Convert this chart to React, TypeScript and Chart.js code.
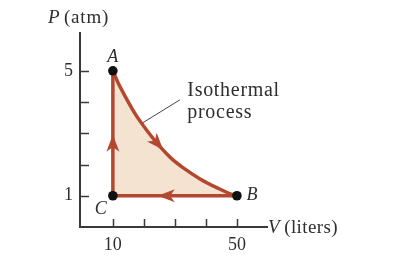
import React, { useEffect, useRef } from "react";
import { Chart, registerables } from "chart.js";

Chart.register(...registerables);

// Isothermal curve A -> B
const CURVE_V = [10, 12, 14.2, 17.4, 21.3, 25.2, 29, 32.6, 38.1, 43.5, 48.7, 50];
const CURVE_P = [5, 4.55, 4.14, 3.59, 3.05, 2.57, 2.18, 1.9, 1.54, 1.26, 1.03, 1];

// Straight legs B -> C -> A
const EDGE_V = [50, 10, 10];
const EDGE_P = [1, 1, 5];

// State points
const POINT_NAMES = ["A", "B", "C"];
const POINT_V = [10, 50, 10];
const POINT_P = [5, 1, 1];

// Axis ticks
const X_TICKS = [10, 20, 30, 40, 50];
const Y_TICKS = [1, 2, 3, 4, 5];
const X_LABELS = [10, 50];
const Y_LABELS = [1, 5];

// Arrow heads (tip and a point behind it, in data units)
const ARROW_TIP_V = [10, 24.5, 26.2];
const ARROW_TIP_P = [2.95, 1, 2.47];
const ARROW_TAIL_V = [10, 30, 23.5];
const ARROW_TAIL_P = [2.5, 1, 2.77];

const LINE = "#b4472f";
const FILL = "#f3e3d0";
const AXIS = "#3a3a3a";
const TEXT = "#2e2e2e";
const FONT = "'Liberation Serif', 'DejaVu Serif', serif";

const decoPlugin = {
  id: "deco",
  afterDatasetsDraw(chart: any) {
    const { ctx } = chart;
    const x = chart.scales.x;
    const y = chart.scales.y;
    ctx.save();
    // inward tick marks
    ctx.strokeStyle = AXIS;
    ctx.lineWidth = 1.5;
    X_TICKS.forEach((v) => {
      const px = Math.round(x.getPixelForValue(v)) + 0.5;
      ctx.beginPath();
      ctx.moveTo(px, y.bottom);
      ctx.lineTo(px, y.bottom - 8);
      ctx.stroke();
    });
    Y_TICKS.forEach((v) => {
      const py = Math.round(y.getPixelForValue(v)) + 0.5;
      ctx.beginPath();
      ctx.moveTo(x.left, py);
      ctx.lineTo(x.left + 9, py);
      ctx.stroke();
    });

    // arrow heads
    ctx.fillStyle = LINE;
    ARROW_TIP_V.forEach((tv, i) => {
      const tx = x.getPixelForValue(tv);
      const ty = y.getPixelForValue(ARROW_TIP_P[i]);
      const bx = x.getPixelForValue(ARROW_TAIL_V[i]);
      const by = y.getPixelForValue(ARROW_TAIL_P[i]);
      const ang = Math.atan2(ty - by, tx - bx);
      const L = 17;
      const W = 6.5;
      ctx.save();
      ctx.translate(tx, ty);
      ctx.rotate(ang);
      ctx.beginPath();
      ctx.moveTo(0, 0);
      ctx.lineTo(-L, -W);
      ctx.lineTo(-L * 0.72, 0);
      ctx.lineTo(-L, W);
      ctx.closePath();
      ctx.fill();
      ctx.restore();
    });

    // point labels
    ctx.fillStyle = TEXT;
    ctx.font = `italic 18px ${FONT}`;
    ctx.textBaseline = "middle";
    ctx.textAlign = "center";
    const offs = [
      [0, -14],
      [15, 0],
      [-12, 14],
    ];
    POINT_NAMES.forEach((n, i) => {
      const px = x.getPixelForValue(POINT_V[i]);
      const py = y.getPixelForValue(POINT_P[i]);
      ctx.fillText(n, px + offs[i][0], py + offs[i][1]);
    });

    // axis titles
    ctx.textAlign = "left";
    ctx.textBaseline = "alphabetic";
    (ctx as any).letterSpacing = "0.8px";
    ctx.font = `italic 19px ${FONT}`;
    let tx = x.left - 32;
    const tyP = y.top - 10;
    ctx.fillText("P", tx, tyP);
    tx += ctx.measureText("P").width - 2;
    ctx.font = `19px ${FONT}`;
    ctx.fillText(" (atm)", tx, tyP);

    (ctx as any).letterSpacing = "0.4px";
    let vx = x.right + 1;
    const vy = y.bottom + 6;
    ctx.font = `italic 19px ${FONT}`;
    ctx.fillText("V", vx, vy);
    vx += ctx.measureText("V").width - 1;
    ctx.font = `19px ${FONT}`;
    ctx.fillText(" (liters)", vx, vy);

    // annotation
    (ctx as any).letterSpacing = "0.7px";
    const ax = x.getPixelForValue(34.0);
    const ay = y.getPixelForValue(4.2);
    ctx.font = `20px ${FONT}`;
    ctx.fillText("Isothermal", ax, ay);
    ctx.fillText("process", ax, ay + 22);
    (ctx as any).letterSpacing = "0px";
    ctx.strokeStyle = "#444";
    ctx.lineWidth = 1;
    ctx.beginPath();
    ctx.moveTo(x.getPixelForValue(19.7), y.getPixelForValue(3.34));
    ctx.lineTo(x.getPixelForValue(31.6), y.getPixelForValue(4.07));
    ctx.stroke();
    ctx.restore();
  },
};

export default function App() {
  const ref = useRef<HTMLCanvasElement | null>(null);
  useEffect(() => {
    if (!ref.current) return;
    const chart = new Chart(ref.current, {
      type: "line",
      data: {
        datasets: [
          {
            data: CURVE_V.map((v, i) => ({ x: v, y: CURVE_P[i] })),
            borderColor: LINE,
            borderWidth: 3.5,
            backgroundColor: FILL,
            fill: { value: 1 },
            cubicInterpolationMode: "monotone",
            pointRadius: 0,
            order: 2,
          },
          {
            data: EDGE_V.map((v, i) => ({ x: v, y: EDGE_P[i] })),
            borderColor: LINE,
            borderWidth: 3.5,
            fill: false,
            tension: 0,
            pointRadius: 0,
            borderJoinStyle: "miter",
            order: 1,
          },
          {
            data: POINT_V.map((v, i) => ({ x: v, y: POINT_P[i] })),
            showLine: false,
            pointRadius: 4.8,
            pointBackgroundColor: "#111",
            pointBorderWidth: 0,
            order: 0,
          },
        ],
      } as any,
      options: {
        animation: false,
        responsive: false,
        events: [],
        layout: { padding: { top: 33, right: 144, left: 0, bottom: 0 } },
        plugins: { legend: { display: false }, tooltip: { enabled: false } },
        scales: {
          x: {
            type: "linear",
            min: -0.6,
            max: 59.7,
            grid: { display: false, drawTicks: false },
            border: { display: true, color: AXIS, width: 2 },
            afterBuildTicks: (s: any) => {
              s.ticks = X_LABELS.map((v) => ({ value: v }));
            },
            afterFit: (s: any) => {
              s.height = 36;
            },
            ticks: {
              padding: 7,
              color: TEXT,
              font: { family: FONT, size: 18 },
              maxRotation: 0,
              autoSkip: false,
            },
          },
          y: {
            type: "linear",
            min: 0,
            max: 6.21,
            grid: { display: false, drawTicks: false },
            border: { display: true, color: AXIS, width: 2 },
            afterBuildTicks: (s: any) => {
              s.ticks = Y_LABELS.map((v) => ({ value: v }));
            },
            afterFit: (s: any) => {
              s.width = 80;
            },
            ticks: {
              padding: 7,
              color: TEXT,
              font: { family: FONT, size: 18 },
              autoSkip: false,
            },
          },
        },
      } as any,
      plugins: [decoPlugin],
    });
    return () => chart.destroy();
  }, []);
  return (
    <div style={{ position: "fixed", left: 0, top: 0, width: 411, height: 263, background: "#fff" }}>
      <canvas ref={ref} width={411} height={263} />
    </div>
  );
}
